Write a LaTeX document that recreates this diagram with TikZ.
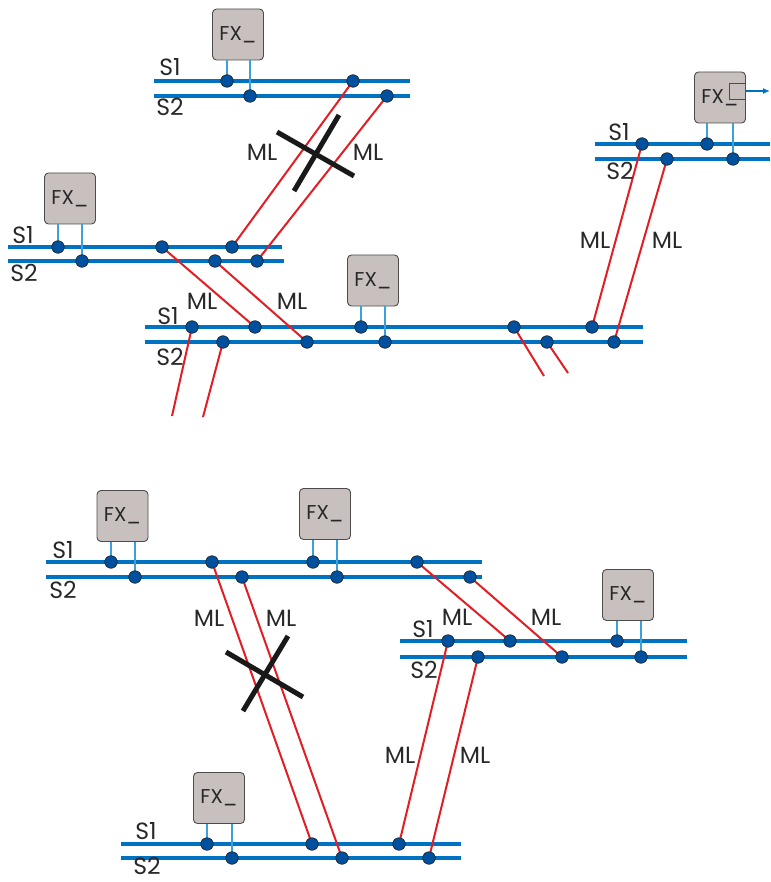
\documentclass[tikz,border=0pt]{standalone}
\usepackage{fontspec}
\setmainfont{Poppins}
\usetikzlibrary{arrows.meta}
\definecolor{busblue}{RGB}{0,114,194}
\definecolor{tapblue}{RGB}{60,160,220}
\definecolor{dotblue}{RGB}{0,80,160}
\definecolor{mlred}{RGB}{226,30,36}
\definecolor{fxgray}{RGB}{200,192,190}
\definecolor{txtgray}{RGB}{40,40,40}
\tikzset{
  bus/.style={draw=busblue,line width=3.2pt},
  tap/.style={draw=tapblue,line width=1.3pt},
  ml/.style={draw=mlred,line width=2pt},
  crossbar/.style={draw=black!90,line width=5pt},
  dot/.style={circle,fill=dotblue,draw=black!85,line width=0.7pt,minimum size=12.5pt,inner sep=0pt},
  fx/.style={rectangle,rounded corners=4pt,fill=fxgray,draw=black!70,line width=0.9pt,
    minimum width=51pt,minimum height=51pt,inner sep=0pt,text=txtgray,font=\fontsize{20}{20}\selectfont},
  lbl/.style={text=txtgray,inner sep=0pt,font=\fontsize{23.5}{23.5}\selectfont},
}
\begin{document}
\begin{tikzpicture}[x=1pt,y=-1pt]
\useasboundingbox (0,0) rectangle (770,882);

% ---------- coordinates of connection dots ----------
% group A (top)
\coordinate (A1) at (227,81);  \coordinate (A2) at (250,96);
\coordinate (A3) at (353,81);  \coordinate (A4) at (387,96);
% group B (left)
\coordinate (B1) at (58,247);  \coordinate (B2) at (82,261);
\coordinate (B3) at (162,247); \coordinate (B4) at (232,247);
\coordinate (B5) at (215,261); \coordinate (B6) at (257,261);
% group C (middle)
\coordinate (C1) at (192,327); \coordinate (C2) at (223,342);
\coordinate (C3) at (255,327); \coordinate (C4) at (307,342);
\coordinate (C5) at (361,327); \coordinate (C6) at (385,342);
\coordinate (C7) at (514,327); \coordinate (C8) at (547,342);
\coordinate (C9) at (592,327); \coordinate (C10) at (614,342);
% group D (top right)
\coordinate (D1) at (642,144); \coordinate (D2) at (667,159);
\coordinate (D3) at (707,144); \coordinate (D4) at (733,159);
% group E (lower top)
\coordinate (E1) at (111,562); \coordinate (E2) at (135,577);
\coordinate (E3) at (212,562); \coordinate (E4) at (242,577);
\coordinate (E5) at (313,562); \coordinate (E6) at (337,577);
\coordinate (E7) at (417,562); \coordinate (E8) at (470,577);
% group F (lower right)
\coordinate (F1) at (448,641); \coordinate (F2) at (478,657);
\coordinate (F3) at (510,641); \coordinate (F4) at (562,657);
\coordinate (F5) at (617,641); \coordinate (F6) at (641,657);
% group G (bottom)
\coordinate (G1) at (207,844); \coordinate (G2) at (232,858);
\coordinate (G3) at (312,844); \coordinate (G4) at (342,858);
\coordinate (G5) at (399,844); \coordinate (G6) at (429,858);
% free stub ends
\coordinate (s1) at (172,416); \coordinate (s2) at (203,417);
\coordinate (s3) at (544,376); \coordinate (s4) at (568,373);

% ---------- bus lines ----------
\draw[bus] (154,81) -- (410,81);   \draw[bus] (154,96) -- (410,96);
\draw[bus] (8,247) -- (282,247);   \draw[bus] (8,261) -- (284,261);
\draw[bus] (145,327) -- (643,327); \draw[bus] (145,342) -- (643,342);
\draw[bus] (595,144) -- (770,144); \draw[bus] (595,159) -- (770,159);
\draw[bus] (46,562) -- (482,562);  \draw[bus] (46,577) -- (482,577);
\draw[bus] (400,641) -- (687,641); \draw[bus] (400,657) -- (687,657);
\draw[bus] (121,844) -- (461,844); \draw[bus] (121,858) -- (461,858);

% ---------- FX boxes ----------
\node[fx] (fxA) at (238,34.5) {FX\_};
\node[fx] (fxB) at (70,198.5) {FX\_};
\node[fx] (fxC) at (373,280.5) {FX\_};
\node[fx] (fxD) at (720,97.5) {FX\_};
\node[fx] (fxE) at (122.5,516) {FX\_};
\node[fx] (fxE2) at (325,514) {FX\_};
\node[fx] (fxF) at (628,595) {FX\_};
\node[fx] (fxG) at (219,798) {FX\_};

% output square + arrow
\node[draw=black!70,fill=fxgray,line width=0.9pt,minimum size=16pt,inner sep=0pt] (outsq) at (737,91) {};
\coordinate (outend) at (770,91);
\draw[draw=busblue,line width=1.5pt,-{Latex[length=7pt,width=6pt]}] (outsq.east) -- (outend);

% ---------- taps ----------
\foreach \d/\b in {A1/fxA,A2/fxA,B1/fxB,B2/fxB,C5/fxC,C6/fxC,D3/fxD,D4/fxD,
                   E1/fxE,E2/fxE,E5/fxE2,E6/fxE2,F5/fxF,F6/fxF,G1/fxG,G2/fxG}
  \draw[tap] (\b.south -| \d) -- (\d);

% ---------- ML links ----------
\draw[ml] (B4) -- (A3);  \draw[ml] (B6) -- (A4);
\draw[ml] (B3) -- (C3);  \draw[ml] (B5) -- (C4);
\draw[ml] (D1) -- (C9);  \draw[ml] (D2) -- (C10);
\draw[ml] (C1) -- (s1);  \draw[ml] (C2) -- (s2);
\draw[ml] (C7) -- (s3);  \draw[ml] (C8) -- (s4);
\draw[ml] (E3) -- (G3);  \draw[ml] (E4) -- (G4);
\draw[ml] (E7) -- (F3);  \draw[ml] (E8) -- (F4);
\draw[ml] (F1) -- (G5);  \draw[ml] (F2) -- (G6);

% ---------- crosses ----------
\coordinate (x1a) at (277,132); \coordinate (x1b) at (354,176);
\coordinate (x1c) at (339,115); \coordinate (x1d) at (294,191);
\draw[crossbar] (x1a) -- (x1b); \draw[crossbar] (x1c) -- (x1d);
\coordinate (x2a) at (226,652); \coordinate (x2b) at (303,697);
\coordinate (x2c) at (288,636); \coordinate (x2d) at (243,711);
\draw[crossbar] (x2a) -- (x2b); \draw[crossbar] (x2c) -- (x2d);

% ---------- dots ----------
\foreach \d in {A1,A2,A3,A4,B1,B2,B3,B4,B5,B6,C1,C2,C3,C4,C5,C6,C7,C8,C9,C10,
                D1,D2,D3,D4,E1,E2,E3,E4,E5,E6,E7,E8,F1,F2,F3,F4,F5,F6,G1,G2,G3,G4,G5,G6}
  \node[dot] at (\d) {};

% ---------- labels ----------
\node[lbl] (lA1) at (170,67) {S1};  \node[lbl] (lA2) at (170,107) {S2};
\node[lbl] (lB1) at (23,235) {S1};  \node[lbl] (lB2) at (24,273) {S2};
\node[lbl] (lC1) at (168,316) {S1}; \node[lbl] (lC2) at (170,357) {S2};
\node[lbl] (lD1) at (619,132) {S1}; \node[lbl] (lD2) at (620,171) {S2};
\node[lbl] (lE1) at (63,550) {S1};  \node[lbl] (lE2) at (63,590) {S2};
\node[lbl] (lF1) at (423,629) {S1}; \node[lbl] (lF2) at (424,670) {S2};
\node[lbl] (lG1) at (146,831) {S1}; \node[lbl] (lG2) at (147,866) {S2};

\node[lbl] (m1) at (262,152) {ML}; \node[lbl] (m2) at (368,152) {ML};
\node[lbl] (m3) at (202,301) {ML}; \node[lbl] (m4) at (292,301) {ML};
\node[lbl] (m5) at (595,240) {ML}; \node[lbl] (m6) at (667,240) {ML};
\node[lbl] (m7) at (209,618) {ML}; \node[lbl] (m8) at (281,618) {ML};
\node[lbl] (m9) at (457,617) {ML}; \node[lbl] (m10) at (546,617) {ML};
\node[lbl] (m11) at (400,755) {ML}; \node[lbl] (m12) at (475,755) {ML};
\end{tikzpicture}
\end{document}
